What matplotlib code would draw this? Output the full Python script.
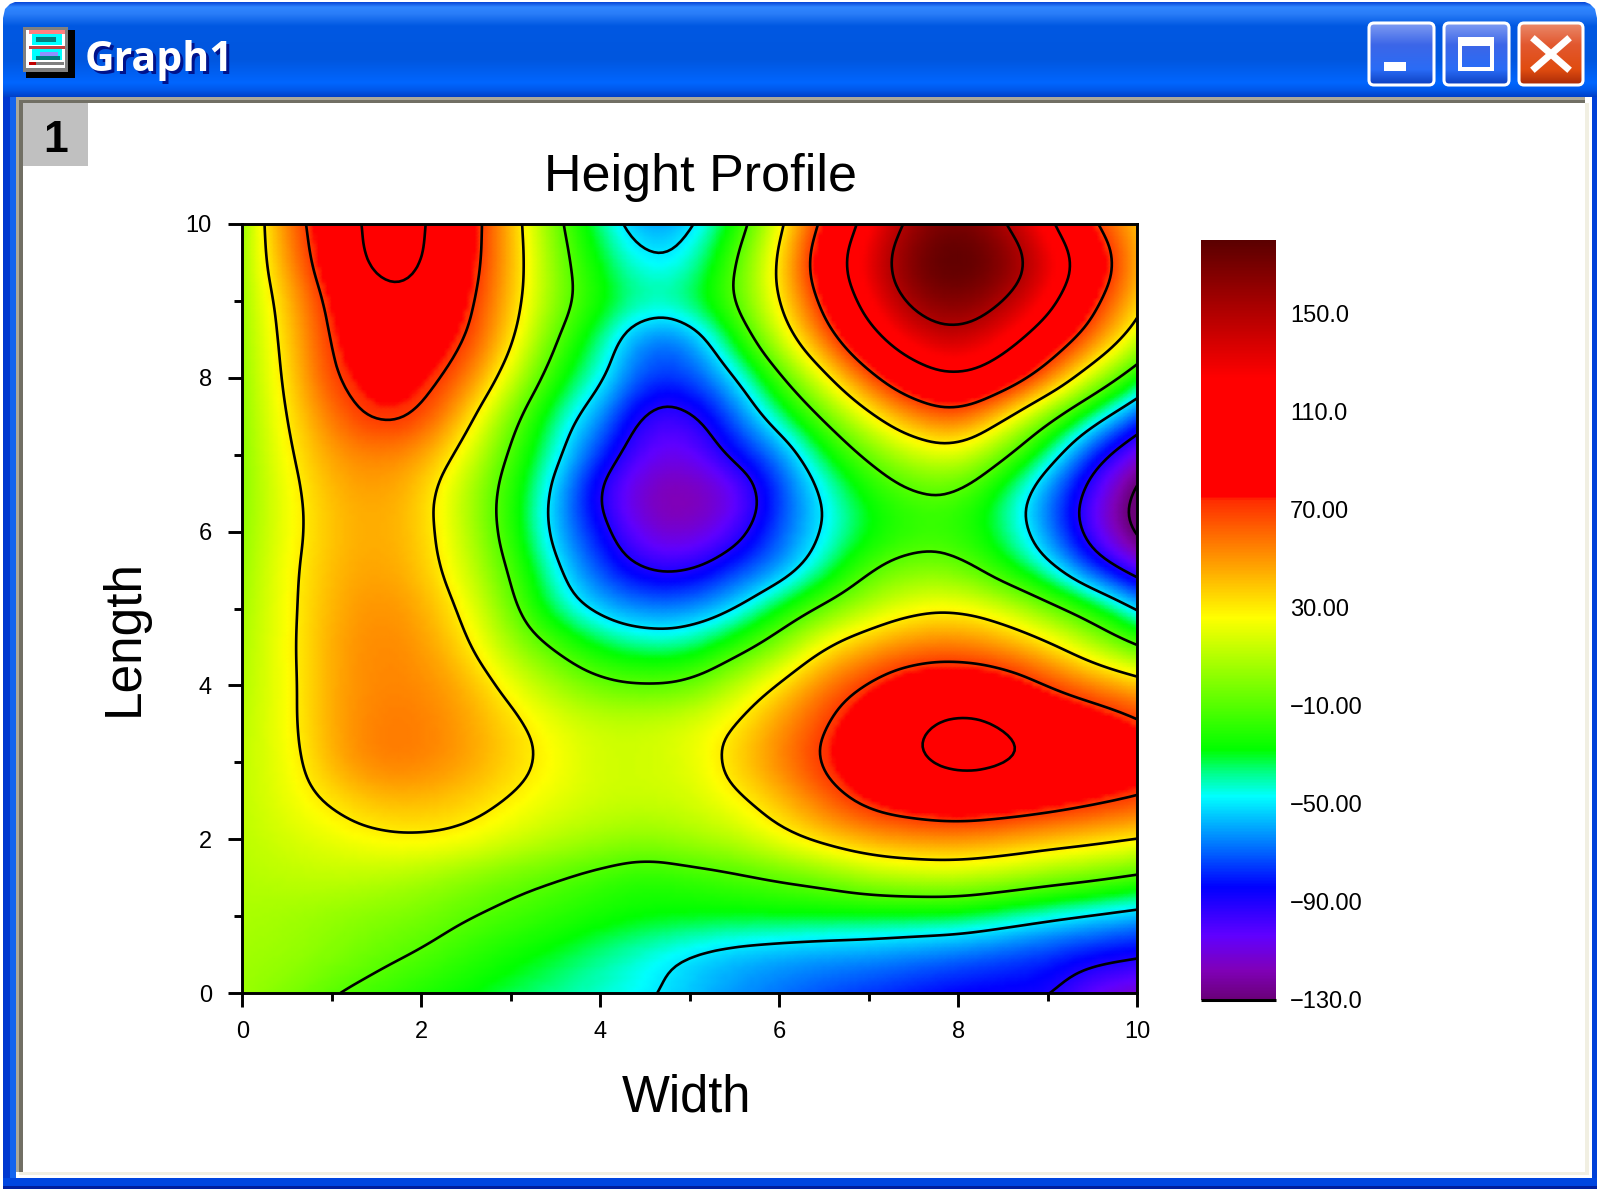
import numpy as np
import matplotlib
matplotlib.use('Agg')
import matplotlib.pyplot as plt
from matplotlib.colors import LinearSegmentedColormap, Normalize
from matplotlib.cm import ScalarMappable
from matplotlib.patches import Rectangle, FancyBboxPatch, Polygon
from matplotlib.ticker import MultipleLocator

plt.rcParams['font.family'] = ['Liberation Sans', 'DejaVu Sans']

title = 'Height Profile'
x_label = 'Width'
y_label = 'Length'
window_title = 'Graph1'
layer_tag = '1'

width_values = [0, .5, 1, 1.5, 2, 2.5, 3, 3.5, 4, 4.5, 5, 5.5, 6, 6.5, 7, 7.5, 8, 8.5, 9, 9.5, 10]
length_values = [10, 9.5, 9, 8.5, 8, 7.5, 7, 6.5, 6, 5.5, 5, 4.5, 4, 3.5, 3, 2.5, 2, 1.5, 1, .5, 0]
height_rows = [
    [5, 56, 90, 122, 115, 86, 42, -5, -38, -62, -55, -25, 24, 78, 122, 160, 174, 155, 118, 73, 42],
    [7, 50, 88, 120, 114, 84, 43, 0, -30, -49, -45, -12, 33, 92, 134, 172, 184, 170, 136, 94, 48],
    [6, 40, 78, 104, 104, 78, 40, 1, -25, -39, -34, -10, 30, 78, 124, 160, 170, 154, 122, 78, 40],
    [5, 36, 74, 90, 88, 72, 34, -10, -38, -68, -65, -28, 15, 58, 100, 132, 145, 124, 92, 58, 18],
    [4, 33, 70, 82, 80, 58, 18, -23, -46, -76, -75, -53, -14, 24, 64, 96, 110, 92, 58, 14, -25],
    [3, 30, 58, 76, 70, 38, -3, -38, -62, -96, -96, -70, -39, -7, 25, 52, 64, 35, -3, -40, -72],
    [2, 27, 48, 55, 48, 22, -14, -45, -78, -105, -108, -85, -66, -32, -6, 14, 20, -6, -40, -80, -110],
    [2, 24, 42, 48, 38, 10, -20, -56, -94, -118, -122, -110, -76, -48, -25, -12, -12, -34, -65, -100, -137],
    [3, 24, 40, 46, 38, 12, -20, -57, -84, -112, -116, -100, -72, -49, -30, -19, -20, -36, -64, -102, -137],
    [5, 26, 42, 48, 40, 17, -12, -47, -74, -92, -92, -76, -62, -38, -11, 0, -3, -22, -44, -75, -100],
    [7, 26, 44, 52, 46, 26, -5, -38, -56, -65, -64, -52, -28, -6, 12, 25, 28, 18, -2, -23, -51],
    [9, 26, 46, 54, 50, 34, 7, -12, -30, -38, -36, -19, 2, 30, 46, 56, 58, 50, 36, 13, -9],
    [10, 25, 46, 54, 53, 44, 24, 7, -5, -9, -6, 12, 33, 56, 73, 88, 92, 87, 70, 55, 43],
    [12, 25, 46, 56, 56, 48, 35, 22, 15, 15, 20, 30, 50, 69, 90, 108, 118, 112, 98, 89, 76],
    [13, 23, 44, 56, 55, 48, 36, 26, 16, 16, 20, 36, 54, 74, 92, 110, 118, 115, 106, 97, 87],
    [13, 22, 32, 41, 42, 37, 29, 21, 16, 15, 17, 26, 40, 60, 78, 88, 94, 90, 84, 76, 69],
    [12, 17, 22, 27, 29, 26, 18, 11, 6, 2, 7, 12, 24, 36, 46, 50, 51, 47, 41, 36, 30],
    [10, 12, 13, 11, 7, 1, -5, -10, -16, -21, -18, -14, -9, -3, 7, 12, 13, 8, 1, -5, -13],
    [8, 6, 3, 0, -3, -9, -14, -19, -24, -27, -28, -29, -29, -30, -31, -32, -33, -40, -47, -53, -59],
    [6, 5, 0, -6, -11, -18, -25, -31, -38, -45, -52, -57, -60, -62, -63, -66, -69, -73, -78, -84, -88],
    [5, -1, -9, -15, -21, -27, -33, -38, -43, -48, -55, -62, -67, -72, -76, -80, -84, -86, -87, -105, -112],
]
contour_levels = [-130, -90, -50, -10, 30, 70, 110, 150]
bar_labels = ['\u2212130.0', '\u221290.00', '\u221250.00', '\u221210.00', '30.00', '70.00', '110.0', '150.0']
z_min, z_max = -130, 180

W, H = 1600, 1189
fig = plt.figure(figsize=(W / 100, H / 100), dpi=100, facecolor='white')


def px_axes(x0, y0, x1, y1, **kw):
    return fig.add_axes([x0 / W, 1 - y1 / H, (x1 - x0) / W, (y1 - y0) / H], **kw)


# ---- window chrome, in pixel coordinates ----
bg = fig.add_axes([0, 0, 1, 1], zorder=-1)
bg.axis('off')


def hex2rgb(h):
    return [int(h[i:i + 2], 16) / 255 for i in (1, 3, 5)]


def vgrad(x0, y0, x1, y1, stops, z=1, clip=None):
    pos = np.linspace(0, 1, 128)
    sp = [s[0] for s in stops]
    cols = np.array([hex2rgb(s[1]) for s in stops])
    arr = np.stack([np.interp(pos, sp, cols[:, i]) for i in range(3)], axis=-1)[:, None, :]
    im = bg.imshow(arr, extent=(x0, x1, y1, y0), aspect='auto', zorder=z, interpolation='bilinear')
    if clip is not None:
        im.set_clip_path(clip)
    return im


def rect(x0, y0, x1, y1, c, z=3):
    bg.add_patch(Rectangle((x0, y0), x1 - x0, y1 - y0, fc=c, ec='none', zorder=z))


rect(3, 2, 1597, 1186, '#0050e6', 1)
vgrad(3, 2, 1597, 97, [(0, '#0848d8'), (.05, '#2f86ff'), (.12, '#2a7df8'), (.25, '#0058e2'),
                       (.6, '#0056de'), (.85, '#0066ff'), (.93, '#0058ea'), (1, '#0040c8')], 2)
rect(3, 97, 10, 1186, '#0038d0')
rect(10, 97, 16, 1178, '#1464ee')
rect(1592, 97, 1597, 1186, '#0040d8')
rect(3, 1178, 1597, 1186, '#0046e0')
rect(3, 1186, 1597, 1189, '#001f9e')
rect(16, 97, 1592, 1178, 'white')
rect(16, 97, 1585, 100, '#aca899', 4)
rect(19, 100, 1585, 103, '#716f64', 4)
rect(16, 97, 19, 1172, '#aca899', 4)
rect(19, 100, 23, 1172, '#716f64', 4)
rect(19, 1172, 1589, 1175, '#f1efe2', 4)
rect(1585, 103, 1589, 1175, '#f1efe2', 4)
for pts in ([(0, 0), (20, 0), (10, 4), (5, 9), (3, 18), (0, 18)],
            [(W, 0), (W - 20, 0), (W - 10, 4), (W - 5, 9), (W - 3, 18), (W, 18)]):
    bg.add_patch(Polygon(pts, fc='white', ec='none', zorder=5))

rect(26, 30, 75, 78, 'black', 5)
rect(23, 27, 68, 72, '#808080', 6)
rect(26, 30, 65, 68, 'white', 6)
rect(29, 30, 65, 34, '#ff8080', 7)
rect(32, 34, 62, 45, '#00ffff', 7)
rect(36, 37, 56, 42, '#008080', 8)
rect(29, 46, 65, 49, '#c04040', 7)
rect(32, 49, 62, 60, '#00ffff', 7)
rect(40, 52, 58, 56, '#9090ff', 8)
rect(36, 56, 60, 60, '#008080', 8)
rect(29, 62, 64, 65, '#808080', 7)
rect(29, 62, 36, 65, '#c00000', 8)

bg.text(88, 74, window_title, color='#00138c', fontsize=29.5, family='Open Sans', fontweight='bold', va='baseline', zorder=9)
bg.text(85, 71, window_title, color='white', fontsize=29.5, family='Open Sans', fontweight='bold', va='baseline', zorder=10)

for x0, x1, stops in ((1367, 1436, [(0, '#7f9cf2'), (.35, '#3c66e8'), (.75, '#2a6cf6'), (1, '#0c3fc0')]),
                      (1442, 1511, [(0, '#7f9cf2'), (.35, '#3c66e8'), (.75, '#2a6cf6'), (1, '#0c3fc0')]),
                      (1517, 1585, [(0, '#ea8a6c'), (.35, '#e2582f'), (.75, '#e04c10'), (1, '#a82a08')])):
    p = FancyBboxPatch((x0 + 4, 25), x1 - x0 - 8, 58, boxstyle='round,pad=2,rounding_size=5',
                       fc='none', ec='white', lw=2.2, zorder=8)
    bg.add_patch(p)
    vgrad(x0 + 2, 23, x1 - 2, 85, stops, 7, clip=p)
rect(1384, 62, 1406, 71, 'white', 9)
rect(1458, 37, 1494, 71, 'white', 9)
vgrad(1462, 46, 1490, 67, [(0, '#3c66e8'), (1, '#2a6cf6')], 10)
bg.plot([1535, 1567], [40, 68], color='white', lw=5, solid_capstyle='projecting', zorder=9)
bg.plot([1535, 1567], [68, 40], color='white', lw=5, solid_capstyle='projecting', zorder=9)

rect(23, 103, 88, 166, '#c0c0c0', 5)
bg.text(56, 140, layer_tag, fontsize=32, fontweight='bold', ha='center', va='center', zorder=6)
bg.set_xlim(0, W)
bg.set_ylim(H, 0)

bg.text(701, 177, title, fontsize=37.5, ha='center', va='center', zorder=6)
bg.text(686, 1098, x_label, fontsize=36.5, ha='center', va='center', zorder=6)
bg.text(124, 638, y_label, fontsize=37, ha='center', va='center', rotation=90, zorder=6)

# ---- colour scale ----
stops = [(-130, '#6a0078'), (-118, '#8000b8'), (-104, '#6000ff'), (-84, '#0000ff'),
         (-47, '#00ffff'), (-38, '#00ff90'), (-28, '#00ff00'), (26, '#ffff00'),
         (74, '#ff2c00'), (75.5, '#ff0000'), (124, '#ff0000'), (180, '#5a0000')]
cmap = LinearSegmentedColormap.from_list(
    'origin', [((v - z_min) / (z_max - z_min), c) for v, c in stops], N=512)
norm = Normalize(z_min, z_max)


def smooth_surface(xs, ys, rows, factor=10):
    """Bilinear upsampling of the read grid followed by a box blur, to give smooth contours."""
    xs = np.asarray(xs, float)
    ys = np.asarray(ys, float)[::-1]
    z = np.asarray(rows, float)[::-1]
    fx = np.linspace(xs[0], xs[-1], (len(xs) - 1) * factor + 1)
    fy = np.linspace(ys[0], ys[-1], (len(ys) - 1) * factor + 1)
    zf = np.array([np.interp(fx, xs, r) for r in z])
    zf = np.array([np.interp(fy, ys, c) for c in zf.T]).T
    for w in (11, 5):
        k = np.ones(w) / w
        pad = w // 2
        zf = np.pad(zf, pad, mode='reflect', reflect_type='odd')
        zf = np.apply_along_axis(np.convolve, 0, zf, k, mode='valid')
        zf = np.apply_along_axis(np.convolve, 1, zf, k, mode='valid')
    return fx, fy, zf


# ---- main plot ----
ax = px_axes(242.5, 224, 1137, 993)
fx, fy, fz = smooth_surface(width_values, length_values, height_rows)
ax.pcolormesh(fx, fy, fz, shading='gouraud', cmap=cmap, norm=norm)
ax.contour(fx, fy, fz, levels=contour_levels, colors='black', linewidths=1.9, linestyles='solid')
ax.set_xlim(0, 10)
ax.set_ylim(0, 10)
ax.xaxis.set_major_locator(MultipleLocator(2))
ax.yaxis.set_major_locator(MultipleLocator(2))
ax.xaxis.set_minor_locator(MultipleLocator(1))
ax.yaxis.set_minor_locator(MultipleLocator(1))
ax.tick_params(which='major', length=10, width=2.1, labelsize=17)
ax.tick_params(axis='x', which='major', pad=10)
ax.tick_params(axis='y', which='major', pad=12)
ax.tick_params(which='minor', length=6, width=2.1)
for s in ax.spines.values():
    s.set_linewidth(2.1)

# ---- colour bar ----
cax = px_axes(1201, 240, 1276, 1000)
cb = fig.colorbar(ScalarMappable(norm=norm, cmap=cmap), cax=cax, ticks=contour_levels)
cb.ax.set_yticklabels(bar_labels)
cb.ax.tick_params(length=0, labelsize=17, pad=10)
cb.outline.set_visible(False)
cax.axhline(z_min, color='black', lw=2.2, clip_on=False, solid_capstyle='butt')

fig.savefig('out.png', dpi=100)
